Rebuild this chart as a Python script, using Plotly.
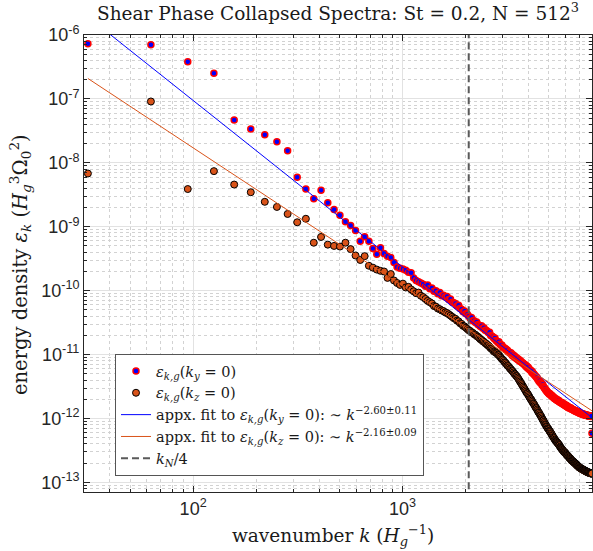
import numpy as np
import plotly.graph_objects as go

# ---------------- data ----------------
dk = 10 * np.pi                      # wavenumber spacing (k = 31.4, 62.8, ...)
n_modes = 256
k = dk * np.arange(1, n_modes + 1)

# log10 of energy density, eps_{k,g}(k_y = 0), n = 1..256
eps_ky_log10 = [
    -6.136, -6.152, -6.42, -6.60, -7.33, -7.47, -7.56, -7.67, -7.81, -8.225,
    -8.41, -8.56, -8.43, -8.625, -8.73, -8.82, -8.92, -8.98, -9.06, -9.225,
    -9.156, -9.225, -9.34, -9.43, -9.33, -9.42, -9.46, -9.48, -9.56, -9.63,
    -9.65, -9.66, -9.68, -9.71, -9.72, -9.80, -9.84, -9.86, -9.88, -9.90,
    -9.93, -9.91, -9.97, -9.96, -10.01, -10.00, -10.05, -10.03, -10.08, -10.07,
    -10.10, -10.09, -10.14, -10.13, -10.18, -10.19, -10.20, -10.24, -10.23, -10.28,
    -10.29, -10.33, -10.32, -10.36, -10.37, -10.40, -10.43, -10.42, -10.47, -10.47,
    -10.50, -10.49, -10.53, -10.54, -10.56, -10.55, -10.59, -10.58, -10.62, -10.62,
    -10.64, -10.66, -10.65, -10.70, -10.71, -10.72, -10.75, -10.74, -10.78, -10.79,
    -10.81, -10.80, -10.84, -10.85, -10.85, -10.88, -10.89, -10.90, -10.91, -10.93,
    -10.93, -10.96, -10.96, -10.98, -10.97, -11.01, -11.00, -11.03, -11.02, -11.05,
    -11.04, -11.07, -11.06, -11.09, -11.08, -11.11, -11.10, -11.12, -11.13, -11.13,
    -11.15, -11.16, -11.16, -11.19, -11.18, -11.21, -11.20, -11.23, -11.23, -11.25,
    -11.25, -11.28, -11.27, -11.30, -11.30, -11.32, -11.33, -11.34, -11.36, -11.36,
    -11.39, -11.39, -11.42, -11.41, -11.44, -11.45, -11.45, -11.48, -11.47, -11.50,
    -11.51, -11.53, -11.53, -11.56, -11.56, -11.58, -11.58, -11.60, -11.60, -11.62,
    -11.61, -11.63, -11.63, -11.65, -11.64, -11.66, -11.66, -11.68, -11.67, -11.69,
    -11.69, -11.70, -11.71, -11.70, -11.72, -11.72, -11.73, -11.72, -11.74, -11.74,
    -11.75, -11.75, -11.76, -11.75, -11.77, -11.77, -11.78, -11.77, -11.79, -11.79,
    -11.80, -11.79, -11.81, -11.80, -11.82, -11.81, -11.83, -11.82, -11.83, -11.83,
    -11.84, -11.83, -11.85, -11.84, -11.85, -11.86, -11.86, -11.86, -11.87, -11.87,
    -11.88, -11.87, -11.88, -11.89, -11.88, -11.89, -11.90, -11.89, -11.90, -11.90,
    -11.91, -11.90, -11.91, -11.92, -11.91, -11.92, -11.92, -11.93, -11.92, -11.93,
    -11.93, -11.93, -11.94, -11.93, -11.94, -11.94, -11.94, -11.95, -11.94, -11.95,
    -11.95, -11.95, -11.95, -11.96, -11.95, -11.96, -11.96, -11.96, -11.96, -11.96,
    -11.96, -11.96, -11.97, -11.96, -11.96, -12.23,
]

# log10 of energy density, eps_{k,g}(k_z = 0), n = 1..256
eps_kz_log10 = [
    -8.167, -7.04, -8.41, -8.13, -8.34, -8.46, -8.61, -8.69, -8.80, -8.93,
    -8.875, -9.25, -9.16, -9.28, -9.30, -9.31, -9.25, -9.35, -9.45, -9.52,
    -9.46, -9.61, -9.64, -9.67, -9.69, -9.70, -9.80, -9.74, -9.84, -9.88,
    -9.91, -9.89, -9.95, -9.94, -9.98, -10.01, -10.04, -10.03, -10.08, -10.10,
    -10.13, -10.16, -10.18, -10.20, -10.24, -10.25, -10.28, -10.29, -10.31, -10.32,
    -10.34, -10.35, -10.37, -10.39, -10.41, -10.43, -10.44, -10.47, -10.48, -10.51,
    -10.52, -10.55, -10.56, -10.58, -10.60, -10.62, -10.63, -10.65, -10.66, -10.68,
    -10.69, -10.71, -10.72, -10.74, -10.76, -10.77, -10.79, -10.80, -10.82, -10.83,
    -10.85, -10.86, -10.88, -10.90, -10.91, -10.93, -10.95, -10.96, -10.97, -10.98,
    -11.00, -11.01, -11.03, -11.05, -11.07, -11.08, -11.10, -11.12, -11.13, -11.15,
    -11.17, -11.18, -11.20, -11.22, -11.23, -11.25, -11.26, -11.28, -11.30, -11.31,
    -11.33, -11.34, -11.36, -11.38, -11.40, -11.42, -11.44, -11.46, -11.48, -11.50,
    -11.52, -11.54, -11.56, -11.58, -11.60, -11.61, -11.63, -11.65, -11.67, -11.69,
    -11.70, -11.72, -11.74, -11.76, -11.77, -11.79, -11.81, -11.83, -11.84, -11.86,
    -11.88, -11.90, -11.91, -11.93, -11.95, -11.96, -11.98, -12.00, -12.02, -12.03,
    -12.05, -12.07, -12.09, -12.10, -12.12, -12.13, -12.15, -12.16, -12.17, -12.19,
    -12.20, -12.21, -12.23, -12.24, -12.26, -12.27, -12.29, -12.30, -12.31, -12.33,
    -12.34, -12.35, -12.36, -12.37, -12.38, -12.39, -12.40, -12.41, -12.42, -12.44,
    -12.45, -12.46, -12.47, -12.48, -12.49, -12.50, -12.51, -12.52, -12.53, -12.53,
    -12.54, -12.55, -12.56, -12.57, -12.58, -12.58, -12.59, -12.60, -12.61, -12.62,
    -12.62, -12.63, -12.64, -12.65, -12.66, -12.66, -12.67, -12.67, -12.68, -12.69,
    -12.69, -12.70, -12.70, -12.71, -12.72, -12.72, -12.73, -12.74, -12.74, -12.75,
    -12.75, -12.76, -12.77, -12.77, -12.77, -12.78, -12.78, -12.79, -12.79, -12.79,
    -12.80, -12.80, -12.80, -12.81, -12.81, -12.81, -12.82, -12.82, -12.82, -12.83,
    -12.83, -12.83, -12.84, -12.84, -12.84, -12.84, -12.85, -12.85, -12.85, -12.85,
    -12.85, -12.86, -12.86, -12.86, -12.86, -12.86,
]

eps_ky = [10.0 ** v for v in eps_ky_log10]
eps_kz = [10.0 ** v for v in eps_kz_log10]

# fitted power laws (end points)
fit_k = [k[0], k[-1]]
fit_ky = [1.93e-6, 1.03e-12]     # ~ k^-2.60
fit_kz = [2.09e-7, 1.32e-12]     # ~ k^-2.16
k_N4 = 2073.0                    # k_N / 4 marker

# tick labels
x_tick_vals = [100, 1000]
x_tick_text = ["10<sup>2</sup>", "10<sup>3</sup>"]
y_exps = list(range(-13, -5))
y_tick_vals = [10.0 ** e for e in y_exps]
y_tick_text = ["10<sup>%d</sup>" % e for e in y_exps]

# ---------------- figure ----------------
SERIF = "DejaVu Serif"
SANS = "Liberation Sans"
AX = "#262626"
TXT = "#1a1a1a"

fig = go.Figure()
fig.add_trace(go.Scatter(
    x=k, y=eps_ky, mode="markers",
    marker=dict(size=6, color="#0000FF", line=dict(color="#FF0000", width=1.5)),
    name="<i>ε</i><sub><i>k,g</i></sub>(<i>k<sub>y</sub></i> = 0)"))
fig.add_trace(go.Scatter(
    x=k, y=eps_kz, mode="markers",
    marker=dict(size=7, color="#D95319", line=dict(color="#000000", width=1)),
    name="<i>ε</i><sub><i>k,g</i></sub>(<i>k<sub>z</sub></i> = 0)"))
fig.add_trace(go.Scatter(
    x=fit_k, y=fit_ky, mode="lines", line=dict(color="#0000FF", width=1),
    name="appx. fit to <i>ε</i><sub><i>k,g</i></sub>(<i>k<sub>y</sub></i> = 0): ∼ <i>k</i><sup>−2.60±0.11</sup>"))
fig.add_trace(go.Scatter(
    x=fit_k, y=fit_kz, mode="lines", line=dict(color="#D95319", width=1),
    name="appx. fit to <i>ε</i><sub><i>k,g</i></sub>(<i>k<sub>z</sub></i> = 0): ∼ <i>k</i><sup>−2.16±0.09</sup>"))
fig.add_trace(go.Scatter(
    x=[k_N4, k_N4], y=[1e-15, 1e-5], mode="lines",
    line=dict(color="#5a5a5a", width=2, dash="7px,4px"),
    name="<i>k<sub>N</sub></i>/4"))

x_minor = [m * 10 ** e for e in (1, 2, 3) for m in range(2, 10)]
y_minor = [m * 10 ** e for e in range(-14, -5) for m in range(2, 10)]

axis_common = dict(
    type="log", showline=True, linecolor=AX, linewidth=1, mirror="allticks",
    ticks="inside", ticklen=6, tickcolor=AX, tickwidth=1,
    showgrid=True, gridcolor="#e2e2e2", gridwidth=1,
    zeroline=False, automargin=False,
    tickfont=dict(family=SANS, size=18, color=AX),
)

fig.update_xaxes(
    **axis_common, range=[np.log10(30.1), np.log10(8045)],
    tickvals=x_tick_vals, ticktext=x_tick_text,
    minor=dict(tickvals=x_minor, ticks="inside", ticklen=3, tickcolor=AX,
               showgrid=True, gridcolor="#d2d2d2", griddash="dot", gridwidth=1),
)
fig.update_yaxes(
    **axis_common, range=[-13.15, -6.0],
    tickvals=y_tick_vals, ticktext=y_tick_text,
    minor=dict(tickvals=y_minor, ticks="inside", ticklen=3, tickcolor=AX,
               showgrid=True, gridcolor="#d2d2d2", griddash="dot", gridwidth=1),
)

fig.update_layout(
    width=593, height=551,
    margin=dict(l=84, r=1, t=35, b=59),
    paper_bgcolor="white", plot_bgcolor="white",
    showlegend=True,
    legend=dict(
        x=(115 - 84) / 508, y=(492 - 354) / 457, xanchor="left", yanchor="top",
        bgcolor="white", bordercolor="#555555", borderwidth=1,
        font=dict(family=SERIF, size=14.5, color=TXT),
        tracegroupgap=0, itemwidth=30,
    ),
    annotations=[
        dict(text="Shear Phase Collapsed Spectra: St = 0.2, N = 512<sup>3</sup>",
             xref="paper", yref="paper", x=0.5, y=(492 - 12) / 457,
             xanchor="center", yanchor="middle", showarrow=False,
             font=dict(family=SERIF, size=18.5, color=TXT)),
        dict(text="wavenumber <i>k</i> (<i>H<sub>g</sub></i><sup>−1</sup>)",
             xref="paper", yref="paper", x=(333 - 84) / 508, y=(492 - 535) / 457,
             xanchor="center", yanchor="middle", showarrow=False,
             font=dict(family=SERIF, size=18.5, color=TXT)),
        dict(text="energy density <i>ε<sub>k</sub></i> (<i>H<sub>g</sub></i><sup>3</sup>Ω<sub>0</sub><sup>2</sup>)",
             xref="paper", yref="paper", x=(20 - 84) / 508, y=(492 - 265) / 457,
             xanchor="center", yanchor="middle", textangle=-90, showarrow=False,
             font=dict(family=SERIF, size=19.5, color=TXT)),
    ],
)

fig.write_html(
    "out.html",
    config={"displayModeBar": False},
    post_script="document.body.style.margin='0px';"
                "document.documentElement.style.overflow='hidden';",
)
